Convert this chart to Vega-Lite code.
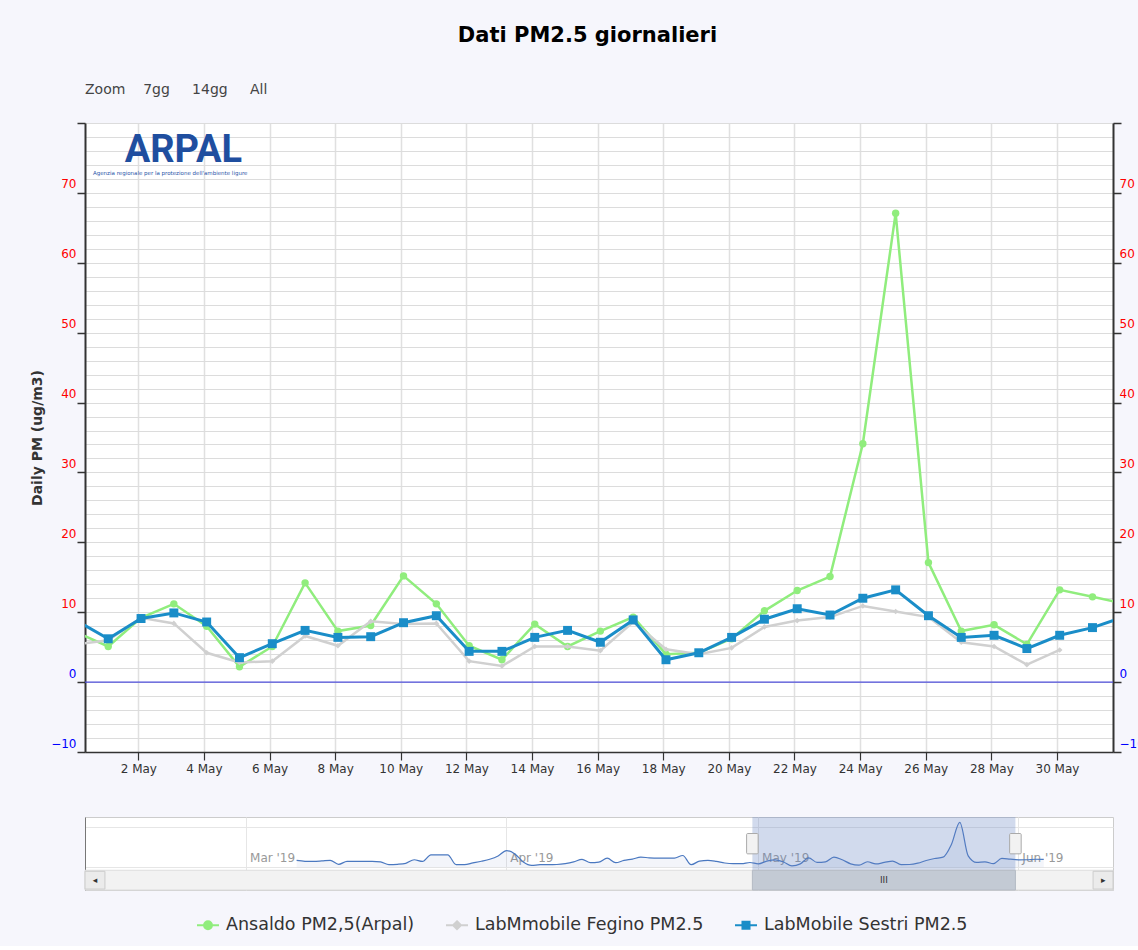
{
  "$schema": "https://vega.github.io/schema/vega-lite/v6.json",
  "background": "#f6f6fc",
  "padding": {"left": 30, "top": 24, "right": 0, "bottom": 12},
  "config": {
    "font": "DejaVu Sans",
    "view": {"stroke": null},
    "axis": {"labelFont": "DejaVu Sans", "titleFont": "DejaVu Sans"},
    "legend": {"labelFont": "DejaVu Sans"}
  },
  "title": {"text": "Dati PM2.5 giornalieri", "fontSize": 21, "fontWeight": "bold", "color": "#000000", "anchor": "middle", "offset": 37, "font": "DejaVu Sans"},
  "datasets": {
    "main": [
      {"date": "2019-04-30T02:00:00", "series": "Ansaldo PM2,5(Arpal)", "value": 7.2},
      {"date": "2019-05-01T02:00:00", "series": "Ansaldo PM2,5(Arpal)", "value": 5.1},
      {"date": "2019-05-02T02:00:00", "series": "Ansaldo PM2,5(Arpal)", "value": 9.2},
      {"date": "2019-05-03T02:00:00", "series": "Ansaldo PM2,5(Arpal)", "value": 11.2},
      {"date": "2019-05-04T02:00:00", "series": "Ansaldo PM2,5(Arpal)", "value": 8.0},
      {"date": "2019-05-05T02:00:00", "series": "Ansaldo PM2,5(Arpal)", "value": 2.2},
      {"date": "2019-05-06T02:00:00", "series": "Ansaldo PM2,5(Arpal)", "value": 5.1},
      {"date": "2019-05-07T02:00:00", "series": "Ansaldo PM2,5(Arpal)", "value": 14.2},
      {"date": "2019-05-08T02:00:00", "series": "Ansaldo PM2,5(Arpal)", "value": 7.3},
      {"date": "2019-05-09T02:00:00", "series": "Ansaldo PM2,5(Arpal)", "value": 8.1},
      {"date": "2019-05-10T02:00:00", "series": "Ansaldo PM2,5(Arpal)", "value": 15.2},
      {"date": "2019-05-11T02:00:00", "series": "Ansaldo PM2,5(Arpal)", "value": 11.2},
      {"date": "2019-05-12T02:00:00", "series": "Ansaldo PM2,5(Arpal)", "value": 5.2},
      {"date": "2019-05-13T02:00:00", "series": "Ansaldo PM2,5(Arpal)", "value": 3.2},
      {"date": "2019-05-14T02:00:00", "series": "Ansaldo PM2,5(Arpal)", "value": 8.3},
      {"date": "2019-05-15T02:00:00", "series": "Ansaldo PM2,5(Arpal)", "value": 5.1},
      {"date": "2019-05-16T02:00:00", "series": "Ansaldo PM2,5(Arpal)", "value": 7.3},
      {"date": "2019-05-17T02:00:00", "series": "Ansaldo PM2,5(Arpal)", "value": 9.3},
      {"date": "2019-05-18T02:00:00", "series": "Ansaldo PM2,5(Arpal)", "value": 4.0},
      {"date": "2019-05-19T02:00:00", "series": "Ansaldo PM2,5(Arpal)", "value": 4.2},
      {"date": "2019-05-20T02:00:00", "series": "Ansaldo PM2,5(Arpal)", "value": 6.2},
      {"date": "2019-05-21T02:00:00", "series": "Ansaldo PM2,5(Arpal)", "value": 10.2},
      {"date": "2019-05-22T02:00:00", "series": "Ansaldo PM2,5(Arpal)", "value": 13.1},
      {"date": "2019-05-23T02:00:00", "series": "Ansaldo PM2,5(Arpal)", "value": 15.1},
      {"date": "2019-05-24T02:00:00", "series": "Ansaldo PM2,5(Arpal)", "value": 34.1},
      {"date": "2019-05-25T02:00:00", "series": "Ansaldo PM2,5(Arpal)", "value": 67.1},
      {"date": "2019-05-26T02:00:00", "series": "Ansaldo PM2,5(Arpal)", "value": 17.1},
      {"date": "2019-05-27T02:00:00", "series": "Ansaldo PM2,5(Arpal)", "value": 7.3},
      {"date": "2019-05-28T02:00:00", "series": "Ansaldo PM2,5(Arpal)", "value": 8.2},
      {"date": "2019-05-29T02:00:00", "series": "Ansaldo PM2,5(Arpal)", "value": 5.4},
      {"date": "2019-05-30T02:00:00", "series": "Ansaldo PM2,5(Arpal)", "value": 13.2},
      {"date": "2019-05-31T02:00:00", "series": "Ansaldo PM2,5(Arpal)", "value": 12.2},
      {"date": "2019-06-01T02:00:00", "series": "Ansaldo PM2,5(Arpal)", "value": 11.2},
      {"date": "2019-04-30T02:00:00", "series": "LabMmobile Fegino PM2.5", "value": 5.4},
      {"date": "2019-05-01T02:00:00", "series": "LabMmobile Fegino PM2.5", "value": 6.0},
      {"date": "2019-05-02T02:00:00", "series": "LabMmobile Fegino PM2.5", "value": 9.2},
      {"date": "2019-05-03T02:00:00", "series": "LabMmobile Fegino PM2.5", "value": 8.4},
      {"date": "2019-05-04T02:00:00", "series": "LabMmobile Fegino PM2.5", "value": 4.2},
      {"date": "2019-05-05T02:00:00", "series": "LabMmobile Fegino PM2.5", "value": 2.8},
      {"date": "2019-05-06T02:00:00", "series": "LabMmobile Fegino PM2.5", "value": 3.0},
      {"date": "2019-05-07T02:00:00", "series": "LabMmobile Fegino PM2.5", "value": 6.6},
      {"date": "2019-05-08T02:00:00", "series": "LabMmobile Fegino PM2.5", "value": 5.2},
      {"date": "2019-05-09T02:00:00", "series": "LabMmobile Fegino PM2.5", "value": 8.7},
      {"date": "2019-05-10T02:00:00", "series": "LabMmobile Fegino PM2.5", "value": 8.3},
      {"date": "2019-05-11T02:00:00", "series": "LabMmobile Fegino PM2.5", "value": 8.4},
      {"date": "2019-05-12T02:00:00", "series": "LabMmobile Fegino PM2.5", "value": 3.0},
      {"date": "2019-05-13T02:00:00", "series": "LabMmobile Fegino PM2.5", "value": 2.3},
      {"date": "2019-05-14T02:00:00", "series": "LabMmobile Fegino PM2.5", "value": 5.1},
      {"date": "2019-05-15T02:00:00", "series": "LabMmobile Fegino PM2.5", "value": 5.1},
      {"date": "2019-05-16T02:00:00", "series": "LabMmobile Fegino PM2.5", "value": 4.5},
      {"date": "2019-05-17T02:00:00", "series": "LabMmobile Fegino PM2.5", "value": 8.6},
      {"date": "2019-05-18T02:00:00", "series": "LabMmobile Fegino PM2.5", "value": 4.7},
      {"date": "2019-05-19T02:00:00", "series": "LabMmobile Fegino PM2.5", "value": 4.0},
      {"date": "2019-05-20T02:00:00", "series": "LabMmobile Fegino PM2.5", "value": 4.9},
      {"date": "2019-05-21T02:00:00", "series": "LabMmobile Fegino PM2.5", "value": 7.9},
      {"date": "2019-05-22T02:00:00", "series": "LabMmobile Fegino PM2.5", "value": 8.8},
      {"date": "2019-05-23T02:00:00", "series": "LabMmobile Fegino PM2.5", "value": 9.3},
      {"date": "2019-05-24T02:00:00", "series": "LabMmobile Fegino PM2.5", "value": 10.9},
      {"date": "2019-05-25T02:00:00", "series": "LabMmobile Fegino PM2.5", "value": 10.1},
      {"date": "2019-05-26T02:00:00", "series": "LabMmobile Fegino PM2.5", "value": 9.3},
      {"date": "2019-05-27T02:00:00", "series": "LabMmobile Fegino PM2.5", "value": 5.7},
      {"date": "2019-05-28T02:00:00", "series": "LabMmobile Fegino PM2.5", "value": 5.1},
      {"date": "2019-05-29T02:00:00", "series": "LabMmobile Fegino PM2.5", "value": 2.5},
      {"date": "2019-05-30T02:00:00", "series": "LabMmobile Fegino PM2.5", "value": 4.6},
      {"date": "2019-04-30T02:00:00", "series": "LabMobile Sestri PM2.5", "value": 8.9},
      {"date": "2019-05-01T02:00:00", "series": "LabMobile Sestri PM2.5", "value": 6.2},
      {"date": "2019-05-02T02:00:00", "series": "LabMobile Sestri PM2.5", "value": 9.1},
      {"date": "2019-05-03T02:00:00", "series": "LabMobile Sestri PM2.5", "value": 9.9},
      {"date": "2019-05-04T02:00:00", "series": "LabMobile Sestri PM2.5", "value": 8.6},
      {"date": "2019-05-05T02:00:00", "series": "LabMobile Sestri PM2.5", "value": 3.5},
      {"date": "2019-05-06T02:00:00", "series": "LabMobile Sestri PM2.5", "value": 5.5},
      {"date": "2019-05-07T02:00:00", "series": "LabMobile Sestri PM2.5", "value": 7.4},
      {"date": "2019-05-08T02:00:00", "series": "LabMobile Sestri PM2.5", "value": 6.4},
      {"date": "2019-05-09T02:00:00", "series": "LabMobile Sestri PM2.5", "value": 6.5},
      {"date": "2019-05-10T02:00:00", "series": "LabMobile Sestri PM2.5", "value": 8.5},
      {"date": "2019-05-11T02:00:00", "series": "LabMobile Sestri PM2.5", "value": 9.5},
      {"date": "2019-05-12T02:00:00", "series": "LabMobile Sestri PM2.5", "value": 4.4},
      {"date": "2019-05-13T02:00:00", "series": "LabMobile Sestri PM2.5", "value": 4.4},
      {"date": "2019-05-14T02:00:00", "series": "LabMobile Sestri PM2.5", "value": 6.4},
      {"date": "2019-05-15T02:00:00", "series": "LabMobile Sestri PM2.5", "value": 7.4},
      {"date": "2019-05-16T02:00:00", "series": "LabMobile Sestri PM2.5", "value": 5.7},
      {"date": "2019-05-17T02:00:00", "series": "LabMobile Sestri PM2.5", "value": 8.9},
      {"date": "2019-05-18T02:00:00", "series": "LabMobile Sestri PM2.5", "value": 3.2},
      {"date": "2019-05-19T02:00:00", "series": "LabMobile Sestri PM2.5", "value": 4.2},
      {"date": "2019-05-20T02:00:00", "series": "LabMobile Sestri PM2.5", "value": 6.4},
      {"date": "2019-05-21T02:00:00", "series": "LabMobile Sestri PM2.5", "value": 9.0},
      {"date": "2019-05-22T02:00:00", "series": "LabMobile Sestri PM2.5", "value": 10.5},
      {"date": "2019-05-23T02:00:00", "series": "LabMobile Sestri PM2.5", "value": 9.6},
      {"date": "2019-05-24T02:00:00", "series": "LabMobile Sestri PM2.5", "value": 12.0},
      {"date": "2019-05-25T02:00:00", "series": "LabMobile Sestri PM2.5", "value": 13.2},
      {"date": "2019-05-26T02:00:00", "series": "LabMobile Sestri PM2.5", "value": 9.5},
      {"date": "2019-05-27T02:00:00", "series": "LabMobile Sestri PM2.5", "value": 6.4},
      {"date": "2019-05-28T02:00:00", "series": "LabMobile Sestri PM2.5", "value": 6.7},
      {"date": "2019-05-29T02:00:00", "series": "LabMobile Sestri PM2.5", "value": 4.8},
      {"date": "2019-05-30T02:00:00", "series": "LabMobile Sestri PM2.5", "value": 6.7},
      {"date": "2019-05-31T02:00:00", "series": "LabMobile Sestri PM2.5", "value": 7.8},
      {"date": "2019-06-01T02:00:00", "series": "LabMobile Sestri PM2.5", "value": 9.4}
    ],
    "nav": [
      {"date": "2019-03-07T02:00:00", "value": 10.3},
      {"date": "2019-03-08T02:00:00", "value": 9.0},
      {"date": "2019-03-09T02:00:00", "value": 8.8},
      {"date": "2019-03-10T02:00:00", "value": 9.5},
      {"date": "2019-03-11T02:00:00", "value": 10.5},
      {"date": "2019-03-12T02:00:00", "value": 4.5},
      {"date": "2019-03-13T02:00:00", "value": 8.8},
      {"date": "2019-03-14T02:00:00", "value": 8.8},
      {"date": "2019-03-15T02:00:00", "value": 8.8},
      {"date": "2019-03-16T02:00:00", "value": 8.8},
      {"date": "2019-03-17T02:00:00", "value": 8.0},
      {"date": "2019-03-18T02:00:00", "value": 4.0},
      {"date": "2019-03-19T02:00:00", "value": 4.5},
      {"date": "2019-03-20T02:00:00", "value": 6.0},
      {"date": "2019-03-21T02:00:00", "value": 11.3},
      {"date": "2019-03-22T02:00:00", "value": 8.8},
      {"date": "2019-03-23T02:00:00", "value": 18.6},
      {"date": "2019-03-24T02:00:00", "value": 18.6},
      {"date": "2019-03-25T02:00:00", "value": 18.6},
      {"date": "2019-03-26T02:00:00", "value": 4.0},
      {"date": "2019-03-27T02:00:00", "value": 4.0},
      {"date": "2019-03-28T02:00:00", "value": 6.5},
      {"date": "2019-03-29T02:00:00", "value": 9.0},
      {"date": "2019-03-30T02:00:00", "value": 12.0},
      {"date": "2019-03-31T02:00:00", "value": 17.0},
      {"date": "2019-04-01T02:00:00", "value": 25.0},
      {"date": "2019-04-02T02:00:00", "value": 20.0},
      {"date": "2019-04-03T02:00:00", "value": 8.0},
      {"date": "2019-04-04T02:00:00", "value": 2.9},
      {"date": "2019-04-05T02:00:00", "value": 3.9},
      {"date": "2019-04-06T02:00:00", "value": 3.9},
      {"date": "2019-04-07T02:00:00", "value": 4.2},
      {"date": "2019-04-08T02:00:00", "value": 5.5},
      {"date": "2019-04-09T02:00:00", "value": 8.0},
      {"date": "2019-04-10T02:00:00", "value": 11.8},
      {"date": "2019-04-11T02:00:00", "value": 6.9},
      {"date": "2019-04-12T02:00:00", "value": 7.8},
      {"date": "2019-04-13T02:00:00", "value": 13.7},
      {"date": "2019-04-14T02:00:00", "value": 6.9},
      {"date": "2019-04-15T02:00:00", "value": 10.3},
      {"date": "2019-04-16T02:00:00", "value": 12.3},
      {"date": "2019-04-17T02:00:00", "value": 15.2},
      {"date": "2019-04-18T02:00:00", "value": 14.2},
      {"date": "2019-04-19T02:00:00", "value": 13.7},
      {"date": "2019-04-20T02:00:00", "value": 13.7},
      {"date": "2019-04-21T02:00:00", "value": 13.7},
      {"date": "2019-04-22T02:00:00", "value": 17.6},
      {"date": "2019-04-23T02:00:00", "value": 3.9},
      {"date": "2019-04-24T02:00:00", "value": 9.3},
      {"date": "2019-04-25T02:00:00", "value": 10.3},
      {"date": "2019-04-26T02:00:00", "value": 8.8},
      {"date": "2019-04-27T02:00:00", "value": 6.4},
      {"date": "2019-04-28T02:00:00", "value": 5.4},
      {"date": "2019-04-29T02:00:00", "value": 5.4},
      {"date": "2019-04-30T02:00:00", "value": 7.2},
      {"date": "2019-05-01T02:00:00", "value": 5.1},
      {"date": "2019-05-02T02:00:00", "value": 9.2},
      {"date": "2019-05-03T02:00:00", "value": 11.2},
      {"date": "2019-05-04T02:00:00", "value": 8.0},
      {"date": "2019-05-05T02:00:00", "value": 2.2},
      {"date": "2019-05-06T02:00:00", "value": 5.1},
      {"date": "2019-05-07T02:00:00", "value": 14.2},
      {"date": "2019-05-08T02:00:00", "value": 7.3},
      {"date": "2019-05-09T02:00:00", "value": 8.1},
      {"date": "2019-05-10T02:00:00", "value": 15.2},
      {"date": "2019-05-11T02:00:00", "value": 11.2},
      {"date": "2019-05-12T02:00:00", "value": 5.2},
      {"date": "2019-05-13T02:00:00", "value": 3.2},
      {"date": "2019-05-14T02:00:00", "value": 8.3},
      {"date": "2019-05-15T02:00:00", "value": 5.1},
      {"date": "2019-05-16T02:00:00", "value": 7.3},
      {"date": "2019-05-17T02:00:00", "value": 9.3},
      {"date": "2019-05-18T02:00:00", "value": 4.0},
      {"date": "2019-05-19T02:00:00", "value": 4.2},
      {"date": "2019-05-20T02:00:00", "value": 6.2},
      {"date": "2019-05-21T02:00:00", "value": 10.2},
      {"date": "2019-05-22T02:00:00", "value": 13.1},
      {"date": "2019-05-23T02:00:00", "value": 15.1},
      {"date": "2019-05-24T02:00:00", "value": 34.1},
      {"date": "2019-05-25T02:00:00", "value": 67.1},
      {"date": "2019-05-26T02:00:00", "value": 17.1},
      {"date": "2019-05-27T02:00:00", "value": 7.3},
      {"date": "2019-05-28T02:00:00", "value": 8.2},
      {"date": "2019-05-29T02:00:00", "value": 5.4},
      {"date": "2019-05-30T02:00:00", "value": 13.2},
      {"date": "2019-05-31T02:00:00", "value": 12.2},
      {"date": "2019-06-01T02:00:00", "value": 11.2},
      {"date": "2019-06-02T02:00:00", "value": 11.3},
      {"date": "2019-06-03T02:00:00", "value": 12.0},
      {"date": "2019-06-04T02:00:00", "value": 11.8}
    ],
    "navparts": [
      {"part": "track", "start": "2019-02-09T21:00:00", "end": "2019-06-12T08:00:00", "lo": -33.8, "hi": -4.4},
      {"part": "mask", "start": "2019-04-30T09:00:00", "end": "2019-05-31T17:00:00", "lo": -4.4, "hi": 75},
      {"part": "thumb", "start": "2019-04-30T09:00:00", "end": "2019-05-31T17:00:00", "lo": -33.8, "hi": -4.4},
      {"part": "button", "start": "2019-02-09T21:00:00", "end": "2019-02-12T06:00:00", "lo": -32.4, "hi": -5.9},
      {"part": "button", "start": "2019-06-09T23:00:00", "end": "2019-06-12T08:00:00", "lo": -32.4, "hi": -5.9},
      {"part": "handle", "start": "2019-04-29T16:30:00", "end": "2019-05-01T01:30:00", "lo": 20.1, "hi": 50.4},
      {"part": "handle", "start": "2019-05-31T00:30:00", "end": "2019-06-01T09:30:00", "lo": 20.1, "hi": 50.4}
    ],
    "navlabels": [
      {"date": "2019-05-16T01:00:00", "value": -19.1, "label": "III"},
      {"date": "2019-02-11T01:30:00", "value": -19.1, "label": "◂"},
      {"date": "2019-06-11T04:00:00", "value": -19.1, "label": "▸"}
    ],
    "logo": [
      {"date": "2019-05-01T14:00:00", "value": 74.4, "label": "ARPAL", "kind": "name"},
      {"date": "2019-04-30T14:50:00", "value": 72.8, "label": "Agenzia regionale per la protezione dell'ambiente ligure", "kind": "tag"}
    ]
  },
  "spacing": 41,
  "vconcat": [
    {
      "width": 1028,
      "height": 629,
      "title": {"text": "Zoom\u00a0\u00a0\u00a0 7gg\u00a0\u00a0\u00a0\u00a0 14gg\u00a0\u00a0\u00a0\u00a0 All", "anchor": "start", "frame": "group", "fontSize": 14, "fontWeight": "normal", "color": "#444444", "offset": 11, "font": "DejaVu Sans"},
      "view": {"fill": "#ffffff", "stroke": "#c8c8c8"},
      "resolve": {"scale": {"y": "independent"}},
      "layer": [
        {
          "data": {"name": "main"},
          "encoding": {
            "x": {
              "field": "date", "type": "temporal",
              "scale": {"domain": [{"year": 2019, "month": 4, "date": 30, "hours": 9}, {"year": 2019, "month": 5, "date": 31, "hours": 17}]},
              "axis": {
                "values": [
                  {"year": 2019, "month": 5, "date": 2}, {"year": 2019, "month": 5, "date": 4}, {"year": 2019, "month": 5, "date": 6},
                  {"year": 2019, "month": 5, "date": 8}, {"year": 2019, "month": 5, "date": 10}, {"year": 2019, "month": 5, "date": 12},
                  {"year": 2019, "month": 5, "date": 14}, {"year": 2019, "month": 5, "date": 16}, {"year": 2019, "month": 5, "date": 18},
                  {"year": 2019, "month": 5, "date": 20}, {"year": 2019, "month": 5, "date": 22}, {"year": 2019, "month": 5, "date": 24},
                  {"year": 2019, "month": 5, "date": 26}, {"year": 2019, "month": 5, "date": 28}, {"year": 2019, "month": 5, "date": 30}
                ],
                "format": "%-d %b", "labelFontSize": 12, "labelColor": "#333333",
                "tickSize": 8, "tickColor": "#333333", "tickWidth": 1.2,
                "domainColor": "#333333", "domainWidth": 1.5,
                "grid": true, "gridColor": "#e0e0e0", "gridWidth": 1.5,
                "labelPadding": 3, "title": null, "labelFlush": false, "labelOverlap": false
              }
            },
            "y": {
              "field": "value", "type": "quantitative",
              "scale": {"domain": [-10, 80], "nice": false, "zero": false},
              "axis": {
                "orient": "left",
                "values": [-10, -8, -6, -4, -2, 0, 2, 4, 6, 8, 10, 12, 14, 16, 18, 20, 22, 24, 26, 28, 30, 32, 34, 36, 38, 40, 42, 44, 46, 48, 50, 52, 54, 56, 58, 60, 62, 64, 66, 68, 70, 72, 74, 76, 78, 80],
                "grid": true, "gridColor": "#dcdcdc", "gridWidth": 1.2,
                "labelExpr": "(datum.value % 10 === 0 && datum.value < 80) ? datum.label : ''",
                "labelColor": {"condition": {"test": "datum.value <= 0", "value": "#0000ff"}, "value": "#ff0000"},
                "tickOpacity": {"condition": {"test": "datum.value % 10 === 0", "value": 1}, "value": 0},
                "tickSize": 8, "tickColor": "#333333", "tickWidth": 1.5,
                "domainColor": "#333333", "domainWidth": 2,
                "labelFontSize": 12, "labelOffset": -9, "labelPadding": 1,
                "labelFlush": false, "labelOverlap": false, "labelBound": false,
                "title": "Daily PM (ug/m3)", "titleFontSize": 14, "titleFontWeight": "bold", "titleColor": "#333333", "titlePadding": 6
              }
            },
            "color": {
              "field": "series", "type": "nominal",
              "scale": {"domain": ["Ansaldo PM2,5(Arpal)", "LabMmobile Fegino PM2.5", "LabMobile Sestri PM2.5"], "range": ["#90ed7d", "#d0d0d0", "#1a8dc8"]},
              "legend": {
                "orient": "none", "legendX": 111, "legendY": 790, "direction": "horizontal", "title": null,
                "labelFontSize": 17.5, "labelColor": "#333333", "labelFont": "DejaVu Sans", "labelLimit": 400,
                "symbolSize": 484, "symbolStrokeWidth": 2, "labelOffset": 6, "columnPadding": 27,
                "encode": {
                  "symbols": {
                    "update": {
                      "shape": {"signal": "datum.value === 'Ansaldo PM2,5(Arpal)' ? 'M-1,0H1M0.36,0A0.36,0.36,0,1,1,-0.36,0A0.36,0.36,0,1,1,0.36,0Z' : (datum.value === 'LabMmobile Fegino PM2.5' ? 'M-1,0H1M0,-0.36L0.36,0L0,0.36L-0.36,0Z' : 'M-1,0H1M-0.32,-0.32H0.32V0.32H-0.32Z')"},
                      "fill": {"scale": "color", "field": "value"},
                      "stroke": {"scale": "color", "field": "value"},
                      "opacity": {"value": 1}
                    }
                  }
                }
              }
            }
          },
          "layer": [
            {"transform": [{"filter": "datum.series === 'Ansaldo PM2,5(Arpal)'"}], "mark": {"type": "line", "strokeWidth": 2.5, "clip": true}},
            {"transform": [{"filter": "datum.series === 'Ansaldo PM2,5(Arpal)'"}], "mark": {"type": "point", "shape": "circle", "filled": true, "size": 55, "opacity": 1, "clip": true}},
            {"transform": [{"filter": "datum.series === 'LabMmobile Fegino PM2.5'"}], "mark": {"type": "line", "strokeWidth": 2.5, "clip": true}},
            {"transform": [{"filter": "datum.series === 'LabMmobile Fegino PM2.5'"}], "mark": {"type": "point", "shape": "diamond", "filled": true, "size": 32, "opacity": 1, "clip": true}},
            {"transform": [{"filter": "datum.series === 'LabMobile Sestri PM2.5'"}], "mark": {"type": "line", "strokeWidth": 3, "clip": true}},
            {"transform": [{"filter": "datum.series === 'LabMobile Sestri PM2.5'"}], "mark": {"type": "point", "shape": "square", "filled": true, "size": 80, "opacity": 1, "clip": true}},
            {
              "data": {"name": "logo"},
              "transform": [{"filter": "datum.kind === 'name'"}],
              "mark": {"type": "text", "font": "Roboto", "fontWeight": "bold", "fontSize": 38, "align": "left", "baseline": "alphabetic"},
              "encoding": {"text": {"field": "label"}, "color": {"value": "#1f4e9f"}}
            },
            {
              "data": {"name": "logo"},
              "transform": [{"filter": "datum.kind === 'tag'"}],
              "mark": {"type": "text", "font": "DejaVu Sans", "fontSize": 5.5, "align": "left", "baseline": "middle"},
              "encoding": {"text": {"field": "label"}, "color": {"value": "#2a56a8"}}
            }
          ]
        },
        {
          "data": {"values": [{"zero": 0}]},
          "mark": {"type": "rule", "color": "#5050dc", "strokeWidth": 1.2},
          "encoding": {
            "y": {
              "field": "zero", "type": "quantitative",
              "scale": {"domain": [-10, 80], "nice": false, "zero": false},
              "axis": {
                "orient": "right",
                "values": [-10, 0, 10, 20, 30, 40, 50, 60, 70, 80],
                "grid": false,
                "labelExpr": "datum.value < 80 ? datum.label : ''",
                "labelColor": {"condition": {"test": "datum.value <= 0", "value": "#0000ff"}, "value": "#ff0000"},
                "tickSize": 8, "tickColor": "#333333", "tickWidth": 1.5,
                "domainColor": "#333333", "domainWidth": 2,
                "labelFontSize": 12, "labelOffset": -9, "labelPadding": -2,
                "labelFlush": false, "labelOverlap": false, "labelBound": false,
                "title": null
              }
            }
          }
        }
      ]
    },
    {
      "width": 1028,
      "height": 73,
      "view": {"fill": "#ffffff", "stroke": "#cccccc"},
      "layer": [
        {
          "data": {"name": "nav"},
          "mark": {"type": "area", "interpolate": "monotone", "color": "#335cad", "opacity": 0.06, "clip": true},
          "encoding": {
            "x": {
              "field": "date", "type": "temporal",
              "scale": {"domain": [{"year": 2019, "month": 2, "date": 9, "hours": 21}, {"year": 2019, "month": 6, "date": 12, "hours": 8}]},
              "axis": {
                "values": [{"year": 2019, "month": 3, "date": 1}, {"year": 2019, "month": 4, "date": 1}, {"year": 2019, "month": 5, "date": 1}, {"year": 2019, "month": 6, "date": 1}],
                "format": "%b '%y", "labelAlign": "left", "labelBaseline": "top", "labelPadding": -38, "labelOffset": 4,
                "ticks": false, "domain": false, "grid": true, "gridColor": "#e6e6e6",
                "labelColor": "#999999", "labelFontSize": 12, "title": null, "labelFlush": false, "labelOverlap": false
              }
            },
            "y": {
              "field": "value", "type": "quantitative",
              "scale": {"domain": [-33.8, 75], "nice": false, "zero": false},
              "axis": {"values": [0, 20, 40, 60], "grid": true, "gridColor": "#e6e6e6", "labels": false, "ticks": false, "domain": true, "domainColor": "#777777", "title": null}
            },
            "y2": {"datum": 0}
          }
        },
        {
          "data": {"name": "nav"},
          "mark": {"type": "line", "interpolate": "monotone", "color": "#4a78c0", "strokeWidth": 1.2, "clip": true},
          "encoding": {"x": {"field": "date", "type": "temporal"}, "y": {"field": "value", "type": "quantitative"}}
        },
        {
          "data": {"name": "navparts"},
          "transform": [{"filter": "datum.part === 'mask'"}],
          "mark": {"type": "rect", "color": "#6685c2", "opacity": 0.3},
          "encoding": {"x": {"field": "start", "type": "temporal"}, "x2": {"field": "end"}, "y": {"field": "lo", "type": "quantitative"}, "y2": {"field": "hi"}}
        },
        {
          "data": {"name": "navparts"},
          "transform": [{"filter": "datum.part === 'track'"}],
          "mark": {"type": "rect", "fill": "#f2f2f2", "stroke": "#dddddd", "strokeWidth": 1},
          "encoding": {"x": {"field": "start", "type": "temporal"}, "x2": {"field": "end"}, "y": {"field": "lo", "type": "quantitative"}, "y2": {"field": "hi"}}
        },
        {
          "data": {"name": "navparts"},
          "transform": [{"filter": "datum.part === 'thumb'"}],
          "mark": {"type": "rect", "fill": "#c3cad4", "stroke": "#b4bac4", "strokeWidth": 1},
          "encoding": {"x": {"field": "start", "type": "temporal"}, "x2": {"field": "end"}, "y": {"field": "lo", "type": "quantitative"}, "y2": {"field": "hi"}}
        },
        {
          "data": {"name": "navparts"},
          "transform": [{"filter": "datum.part === 'button'"}],
          "mark": {"type": "rect", "fill": "#ebebeb", "stroke": "#cccccc", "strokeWidth": 1},
          "encoding": {"x": {"field": "start", "type": "temporal"}, "x2": {"field": "end"}, "y": {"field": "lo", "type": "quantitative"}, "y2": {"field": "hi"}}
        },
        {
          "data": {"name": "navparts"},
          "transform": [{"filter": "datum.part === 'handle'"}],
          "mark": {"type": "rect", "fill": "#f2f2f2", "stroke": "#aaaaaa", "strokeWidth": 1, "cornerRadius": 1},
          "encoding": {"x": {"field": "start", "type": "temporal"}, "x2": {"field": "end"}, "y": {"field": "lo", "type": "quantitative"}, "y2": {"field": "hi"}}
        },
        {
          "data": {"name": "navlabels"},
          "mark": {"type": "text", "fontSize": 9, "color": "#333333", "align": "center", "baseline": "middle"},
          "encoding": {"x": {"field": "date", "type": "temporal"}, "y": {"field": "value", "type": "quantitative"}, "text": {"field": "label"}}
        }
      ]
    }
  ]
}
